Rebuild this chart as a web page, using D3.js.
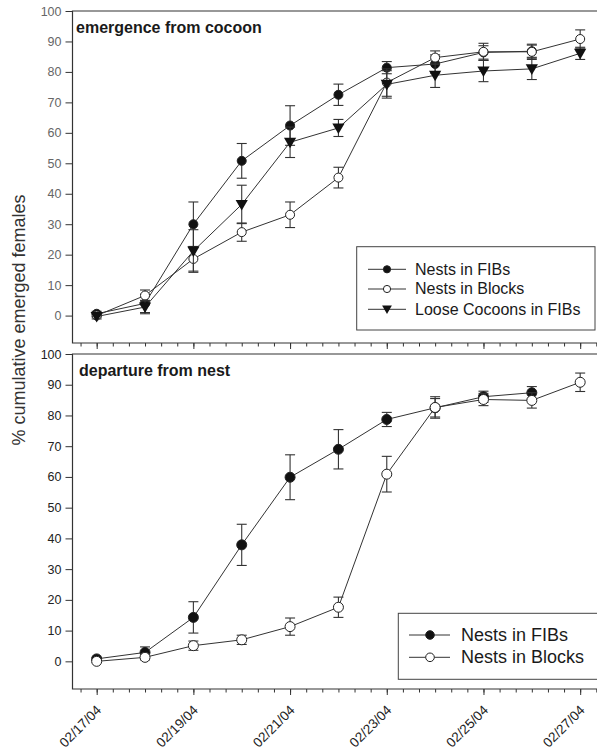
<!DOCTYPE html>
<html lang="en">
<head>
  <meta charset="UTF-8" />
  <title>Cumulative emerged females</title>
  <script src="https://d3js.org/d3.v7.min.js"></script>
  <style>
    body { margin: 0; background: #fff; }
    svg { display: block; font-family: Arial, "Liberation Sans", sans-serif; }
    .frame { fill: none; stroke: #333; stroke-width: 1.2; }
    .series { fill: none; stroke: #333; stroke-width: 1; }
    .err { stroke: #333; stroke-width: 1.1; }
    .axis path { display: none; }
    .axis line { stroke: #333; }
  </style>
</head>
<body>
  <div id="chart"></div>

  <script>
    const width = 597, height = 749;

    // dias de coleta (02/17 a 02/27/2004)
    const days = ["2004-02-17", "2004-02-18", "2004-02-19", "2004-02-20", "2004-02-21", "2004-02-22",
                  "2004-02-23", "2004-02-24", "2004-02-25", "2004-02-26", "2004-02-27"];
    const yTicks = [0, 10, 20, 30, 40, 50, 60, 70, 80, 90, 100];

    // painel superior: emergence from cocoon
    const emFIBs      = [0.6, 4.0, 30.0, 50.8, 62.4, 72.5, 81.4, 82.6, 86.4, 86.8];
    const emFIBsErr   = [0.8, 3.0, 7.3, 5.7, 6.5, 3.5, 2.0, 3.0, 2.2, 2.0];
    const emBlocks    = [0.0, 6.6, 18.6, 27.4, 33.1, 45.3, 76.5, 84.7, 86.6, 86.6, 90.8];
    const emBlocksErr = [0.5, 1.8, 4.0, 3.0, 4.2, 3.4, 4.5, 2.2, 2.8, 2.5, 3.0];
    const emLoose     = [-0.3, 2.8, 21.2, 36.5, 56.9, 61.6, 75.9, 78.9, 80.3, 81.0, 86.1];
    const emLooseErr  = [0.8, 2.2, 7.0, 6.3, 5.0, 2.8, 4.5, 4.0, 3.5, 3.5, 2.0];

    // painel inferior: departure from nest
    const dpFIBs      = [0.8, 2.9, 14.3, 37.9, 59.9, 69.0, 78.7, 82.5, 86.1, 87.4];
    const dpFIBsErr   = [0.5, 1.8, 5.1, 6.7, 7.3, 6.4, 2.3, 3.0, 1.8, 2.0];
    const dpBlocks    = [0.0, 1.3, 5.1, 7.0, 11.3, 17.6, 60.9, 82.6, 85.2, 84.9, 90.8];
    const dpBlocksErr = [0.3, 0.8, 1.5, 1.5, 2.8, 3.3, 5.8, 3.5, 2.0, 2.5, 3.0];

    const parse = d3.utcParse("%Y-%m-%d");
    const dates = days.map(parse);

    const svg = d3.select('#chart').append('svg')
      .attr('width', width)
      .attr('height', height);

    const left = 72.5;
    const x = d3.scaleUtc()
      .domain([d3.utcHour.offset(dates[0], -12), d3.utcHour.offset(dates[10], 12)])
      .range([left, left + 11 * 48.35]);

    const panels = [
      { title: "emergence from cocoon", top: 11, bottom: 343, labelColor: "#666",
        r: 4.5,
        series: [
          { name: "Nests in FIBs", vals: emFIBs, err: emFIBsErr, mark: "filled" },
          { name: "Nests in Blocks", vals: emBlocks, err: emBlocksErr, mark: "open" },
          { name: "Loose Cocoons in FIBs", vals: emLoose, err: emLooseErr, mark: "tri" }
        ],
        legend: { x: 356.7, y: 246.7, w: 238.3, h: 83.3, rows: [269.3, 289, 309.3],
                  lx0: 368, lx1: 406, mx: 387, tx: 415, fs: 16, r: 3.6 } },
      { title: "departure from nest", top: 354, bottom: 689, labelColor: "#222",
        r: 5,
        series: [
          { name: "Nests in FIBs", vals: dpFIBs, err: dpFIBsErr, mark: "filled" },
          { name: "Nests in Blocks", vals: dpBlocks, err: dpBlocksErr, mark: "open" }
        ],
        legend: { x: 398.3, y: 613.3, w: 250, h: 66, rows: [635, 657.3],
                  lx0: 409, lx1: 450, mx: 430, tx: 461, fs: 18, r: 4.3 } }
    ];

    function drawMark(g, type, cx, cy, r) {
      if (type === "tri") {
        g.append('path')
          .attr('d', d3.symbol(d3.symbolTriangle, r * r * 3.2)())
          .attr('transform', `translate(${cx},${cy - 1}) rotate(180)`)
          .attr('fill', '#111');
      } else {
        g.append('circle')
          .attr('cx', cx).attr('cy', cy).attr('r', r)
          .attr('fill', type === "filled" ? '#111' : '#fff')
          .attr('stroke', '#222').attr('stroke-width', 1);
      }
    }

    panels.forEach(p => {
      const y = d3.scaleLinear().domain([-9, 100]).range([p.bottom, p.top]);
      const g = svg.append('g');

      // eixo y
      const yAxis = g.append('g').attr('class', 'axis')
        .attr('transform', `translate(${left},0)`)
        .call(d3.axisLeft(y).tickValues(yTicks).tickSize(7).tickPadding(4));
      yAxis.selectAll('text')
        .attr('font-size', 12.5).attr('fill', p.labelColor)
        .attr('font-family', 'Arial, "Liberation Sans", sans-serif');

      // eixo x: menores a cada 8 h, maiores a cada 2 dias
      g.append('g').attr('class', 'axis')
        .attr('transform', `translate(0,${p.bottom})`)
        .call(d3.axisBottom(x).ticks(d3.utcHour.every(8)).tickSize(3.5).tickFormat(''));
      const xMajor = g.append('g').attr('class', 'axis')
        .attr('transform', `translate(0,${p.bottom})`)
        .call(d3.axisBottom(x).tickValues(dates.filter((d, i) => i % 2 === 0)).tickSize(6)
          .tickFormat(p === panels[1] ? d3.utcFormat("%m/%d/%y") : ''));
      xMajor.selectAll('text')
        .attr('font-size', 13.5).attr('fill', '#222')
        .attr('font-family', 'Arial, "Liberation Sans", sans-serif')
        .attr('text-anchor', 'end')
        .attr('x', 0).attr('y', 0).attr('dy', 0)
        .attr('transform', 'translate(5,22) rotate(-45)');

      // moldura (sem borda direita visível)
      g.append('path').attr('class', 'frame')
        .attr('d', `M${width + 5},${p.top}H${left}V${p.bottom}H${width + 5}`);

      // título
      g.append('text')
        .attr('x', p === panels[0] ? 76 : 79).attr('y', p.top + 22)
        .attr('font-size', 16).attr('font-weight', 'bold').attr('fill', '#1a1a1a')
        .text(p.title);

      // séries
      p.series.forEach(s => {
        const pts = s.vals.map((v, i) => ({ d: dates[i], v, e: s.err[i] }));
        const sg = g.append('g');
        pts.forEach(pt => {
          const cx = x(pt.d);
          sg.append('line').attr('class', 'err')
            .attr('x1', cx).attr('x2', cx).attr('y1', y(pt.v - pt.e)).attr('y2', y(pt.v + pt.e));
          [pt.v - pt.e, pt.v + pt.e].forEach(ev => {
            sg.append('line').attr('class', 'err')
              .attr('x1', cx - 5).attr('x2', cx + 5).attr('y1', y(ev)).attr('y2', y(ev));
          });
        });
        sg.append('path').attr('class', 'series')
          .datum(pts)
          .attr('d', d3.line().x(d => x(d.d)).y(d => y(d.v)));
        pts.forEach(pt => drawMark(sg, s.mark, x(pt.d), y(pt.v), p.r));
      });

      // legenda
      const L = p.legend;
      const lg = g.append('g');
      lg.append('rect')
        .attr('x', L.x).attr('y', L.y).attr('width', L.w).attr('height', L.h)
        .attr('fill', '#fff').attr('stroke', '#444').attr('stroke-width', 1);
      p.series.forEach((s, i) => {
        const ly = L.rows[i];
        lg.append('line').attr('class', 'series')
          .attr('x1', L.lx0).attr('x2', L.lx1).attr('y1', ly).attr('y2', ly);
        drawMark(lg, s.mark, L.mx, ly, L.r);
        lg.append('text')
          .attr('x', L.tx).attr('y', ly + L.fs * 0.33)
          .attr('font-size', L.fs).attr('fill', '#1a1a1a')
          .text(s.name);
      });
    });

    // rótulo do eixo y
    svg.append('text')
      .attr('transform', 'translate(25,320) rotate(-90)')
      .attr('text-anchor', 'middle')
      .attr('font-size', 18).attr('fill', '#333')
      .text('% cumulative emerged females');
  </script>
</body>
</html>
